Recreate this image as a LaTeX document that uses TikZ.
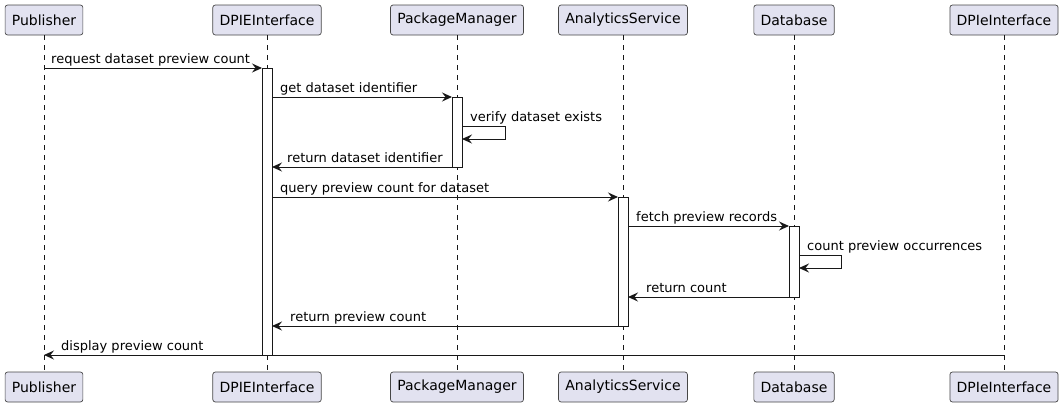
\documentclass[tikz,border=0pt]{standalone}
\usepackage{fontspec}
\setmainfont{DejaVu Sans}
\usetikzlibrary{arrows.meta}
\definecolor{pbox}{HTML}{E2E2F0}
\definecolor{pline}{HTML}{181818}
\begin{document}
\begin{tikzpicture}[x=1pt,y=-1pt,
 part/.style={draw=pline!80, fill=pbox, rounded corners=2.5pt, minimum height=30pt, inner xsep=6.75pt, inner ysep=0pt, font=\fontsize{14}{16}\selectfont, text=black, line width=0.7pt},
 life/.style={draw=pline, dash pattern=on 5pt off 5pt, line width=0.5pt},
 act/.style={draw=pline, fill=white, line width=0.9pt, minimum width=10pt, inner sep=0pt, outer sep=0pt, anchor=north},
 msg/.style={draw=pline, line width=1pt, -{Stealth[length=10pt,width=9pt,inset=3.5pt]}},
 lbl/.style={font=\fontsize{13}{15}\selectfont, inner sep=0pt, anchor=base west, text=black}]
\useasboundingbox (0,0) rectangle (1063,407);
% participants
\node[part] (pubT) at (44,20) {Publisher};
\node[part] (dpiT) at (267,20) {DPIEInterface};
\node[part] (pkgT) at (457,20) {PackageManager};
\node[part] (anaT) at (623,20) {AnalyticsService};
\node[part] (dbT)  at (794,20) {Database};
\node[part] (dpjT) at (1004,20) {DPIeInterface};
\node[part] (pubB) at (44,387) {Publisher};
\node[part] (dpiB) at (267,387) {DPIEInterface};
\node[part] (pkgB) at (457,387) {PackageManager};
\node[part] (anaB) at (623,387) {AnalyticsService};
\node[part] (dbB)  at (794,387) {Database};
\node[part] (dpjB) at (1004,387) {DPIeInterface};
% lifelines
\draw[life] (pubT) -- (pubB);
\draw[life] (dpiT) -- (dpiB);
\draw[life] (pkgT) -- (pkgB);
\draw[life] (anaT) -- (anaB);
\draw[life] (dbT) -- (dbB);
\draw[life] (dpjT) -- (dpjB);
% activations
\node[act, minimum height=287pt] (actD) at (267,68) {};
\node[act, minimum height=70pt] (actP) at (457,97) {};
\node[act, minimum height=129pt] (actA) at (623,197) {};
\node[act, minimum height=71pt] (actB) at (794,226) {};
\coordinate (loopP) at (505,126);
\coordinate (loopB) at (841,255);
% messages
\draw[msg] (pubT |- 0,68) -- (actD.north west);
\node[lbl] (l1) at (51,63) {request dataset preview count};
\draw[msg] (actD.east |- 0,97) -- (actP.north west);
\node[lbl] (l2) at (280,92) {get dataset identifier};
\draw[msg] (actP.east |- loopP) -- (loopP) -- (loopP |- 0,139) -- (actP.east |- 0,139);
\node[lbl] (l3) at (470,121) {verify dataset exists};
\draw[msg] (actP.south west) -- (actD.east |- 0,167);
\node[lbl] (l4) at (287,162) {return dataset identifier};
\draw[msg] (actD.east |- 0,197) -- (actA.north west);
\node[lbl] (l5) at (280,192) {query preview count for dataset};
\draw[msg] (actA.east |- 0,226) -- (actB.north west);
\node[lbl] (l6) at (636,221) {fetch preview records};
\draw[msg] (actB.east |- loopB) -- (loopB) -- (loopB |- 0,268) -- (actB.east |- 0,268);
\node[lbl] (l7) at (807,250) {count preview occurrences};
\draw[msg] (actB.south west) -- (actA.east |- 0,297);
\node[lbl] (l8) at (646,292) {return count};
\draw[msg] (actA.south west) -- (actD.east |- 0,326);
\node[lbl] (l9) at (290,321) {return preview count};
\draw[msg] (dpjT |- 0,355) -- (pubT |- 0,355);
\node[lbl] (l10) at (61,350) {display preview count};
\end{tikzpicture}
\end{document}
